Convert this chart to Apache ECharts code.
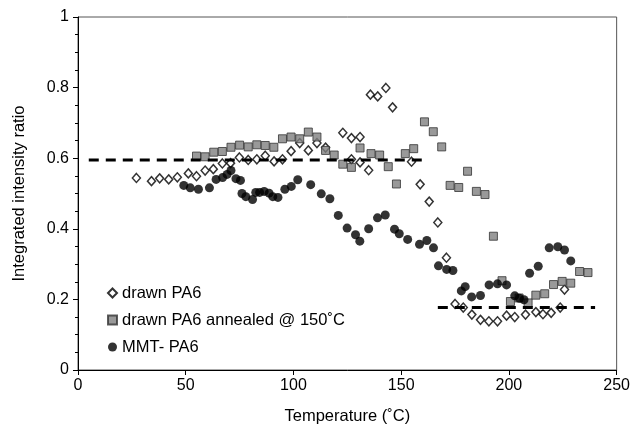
<!DOCTYPE html>
<html>
<head>
<meta charset="utf-8">
<script src="https://cdn.jsdelivr.net/npm/echarts@6/dist/echarts.min.js"></script>
<style>html,body{margin:0;padding:0;background:#fff}#c{width:633px;height:430px}</style>
</head>
<body>
<div id="c"></div>
<script>
// Series names
const seriesNames = ['drawn PA6', 'drawn PA6 annealed @ 150\u02DAC', 'MMT- PA6'];
// drawn PA6 [temperature, ratio]
const drawnPA6 = [
  [27.1,0.544],[34.1,0.535],[37.9,0.543],[42.1,0.540],[46.1,0.546],[51.2,0.557],[55.0,0.549],
  [59.0,0.565],[62.8,0.569],[67.0,0.585],[70.8,0.586],[74.9,0.602],[79.0,0.595],[83.0,0.597],
  [86.9,0.607],[91.0,0.591],[94.9,0.597],[98.9,0.620],[102.9,0.643],[106.9,0.622],[110.9,0.643],
  [114.9,0.630],[122.9,0.672],[126.9,0.657],[126.9,0.597],[130.9,0.660],[130.9,0.588],[134.9,0.566],
  [135.7,0.780],[139.1,0.775],[142.9,0.799],[146.0,0.744],[154.8,0.590],[158.8,0.526],[163.0,0.477],
  [167.0,0.418],[171.0,0.318],[175.0,0.187],[178.8,0.177],[182.8,0.157],[186.8,0.142],[190.7,0.138],
  [194.7,0.138],[198.9,0.154],[202.7,0.150],[207.7,0.157],[212.5,0.164],[215.8,0.158],[219.6,0.162],
  [223.8,0.177],[225.8,0.228]
];
// drawn PA6 annealed @ 150 C
const annealedPA6 = [
  [55.0,0.606],[59.0,0.604],[63.0,0.617],[67.0,0.619],[71.0,0.631],[75.0,0.637],[79.0,0.632],
  [83.0,0.638],[86.9,0.636],[90.9,0.631],[94.9,0.655],[98.9,0.660],[102.9,0.655],[106.9,0.674],
  [110.9,0.660],[114.9,0.622],[118.9,0.609],[122.9,0.583],[126.9,0.574],[130.9,0.629],[136.0,0.613],
  [140.0,0.609],[144.0,0.576],[147.8,0.527],[151.9,0.613],[155.8,0.627],[160.8,0.703],[164.9,0.675],
  [168.8,0.632],[172.7,0.523],[176.7,0.517],[180.8,0.563],[184.9,0.506],[188.9,0.497],[192.8,0.379],
  [196.8,0.253],[200.7,0.194],[204.7,0.204],[208.9,0.190],[212.5,0.212],[216.6,0.216],[220.7,0.242],
  [224.7,0.251],[228.7,0.246],[232.8,0.279],[236.7,0.276]
];
// MMT- PA6
const mmtPA6 = [
  [49.1,0.523],[52.1,0.516],[55.9,0.512],[61.0,0.516],[64.1,0.540],[67.1,0.545],[69.2,0.554],
  [71.0,0.565],[73.3,0.542],[75.4,0.537],[76.1,0.500],[77.9,0.491],[81.0,0.483],[82.5,0.503],
  [84.3,0.503],[86.4,0.506],[88.7,0.501],[90.4,0.491],[92.8,0.489],[96.0,0.512],[99.0,0.520],
  [102.0,0.539],[108.0,0.525],[112.9,0.499],[116.9,0.485],[120.8,0.438],[124.9,0.402],[128.8,0.383],
  [130.8,0.365],[134.9,0.400],[139.0,0.431],[142.6,0.439],[146.9,0.399],[149.1,0.386],[153.0,0.370],
  [158.5,0.356],[161.9,0.367],[165.0,0.346],[167.3,0.295],[171.1,0.285],[174.0,0.282],[177.9,0.224],
  [179.7,0.236],[182.7,0.207],[186.8,0.211],[190.8,0.241],[194.7,0.244],[198.9,0.241],[202.7,0.210],
  [204.9,0.203],[207.0,0.199],[209.6,0.274],[213.6,0.294],[218.7,0.346],[222.7,0.349],[225.8,0.340],
  [228.7,0.309]
];
// plateau guide lines
const upperPlateau = [[5,0.595],[161,0.595]];
const lowerPlateau = [[167,0.177],[240,0.177]];
// axis ticks
const xMin = 0, xMax = 250, xStep = 50;
const yMin = 0, yMax = 1, yStep = 0.2;

const font = '"Liberation Sans", Arial, sans-serif';
const chart = echarts.init(document.getElementById('c'), null, {renderer: 'canvas'});
chart.setOption({
  animation: false,
  backgroundColor: '#fff',
  grid: {left: 78, right: 14, top: 17, bottom: 54, show: true, borderColor: '#555', borderWidth: 1, backgroundColor: 'transparent'},
  legend: {
    orient: 'vertical', left: 107, top: 284, padding: 0,
    data: seriesNames,
    itemWidth: 9, itemHeight: 9, itemGap: 9,
    textStyle: {fontFamily: font, fontSize: 16.5, color: '#000', lineHeight: 18},
    selectedMode: false
  },
  xAxis: {
    type: 'value', min: xMin, max: xMax, interval: xStep,
    name: 'Temperature (\u02DAC)', nameLocation: 'middle', nameGap: 38,
    nameTextStyle: {fontFamily: font, fontSize: 16.5, color: '#000'},
    axisLine: {lineStyle: {color: '#000', width: 1}},
    axisTick: {show: true, inside: false, length: 5, lineStyle: {color: '#000'}},
    axisLabel: {fontFamily: font, fontSize: 16, color: '#000', margin: 8},
    splitLine: {show: false}
  },
  yAxis: {
    type: 'value', min: yMin, max: yMax, interval: yStep,
    name: 'Integrated intensity ratio', nameLocation: 'middle', nameGap: 50, nameRotate: 90,
    nameTextStyle: {fontFamily: font, fontSize: 16.5, color: '#000'},
    axisLine: {show: true, lineStyle: {color: '#000', width: 1}},
    axisTick: {show: true, inside: false, length: 5, lineStyle: {color: '#000'}},
    minorTick: {show: true, splitNumber: 4, length: 3, lineStyle: {color: '#000'}},
    axisLabel: {fontFamily: font, fontSize: 16, color: '#000', margin: 9},
    splitLine: {show: false}
  },
  series: [
    {name: seriesNames[0], type: 'scatter', data: drawnPA6, symbol: 'diamond', symbolSize: [8, 9], z: 2,
     itemStyle: {color: '#fff', borderColor: '#000', borderWidth: 1.5}},
    {name: seriesNames[1], type: 'scatter', data: annealedPA6, symbol: 'rect', symbolSize: 8, z: 3,
     itemStyle: {color: '#808080', borderColor: '#333', borderWidth: 1}},
    {name: seriesNames[2], type: 'scatter', data: mmtPA6, symbol: 'circle', symbolSize: 9, z: 4,
     itemStyle: {color: '#000'}},
    {type: 'line', data: upperPlateau, symbol: 'none', z: 5, silent: true,
     lineStyle: {color: '#000', width: 3, type: [10, 7]}},
    {type: 'line', data: lowerPlateau, symbol: 'none', z: 5, silent: true,
     lineStyle: {color: '#000', width: 3, type: [10, 7]}}
  ]
});
</script>
</body>
</html>
